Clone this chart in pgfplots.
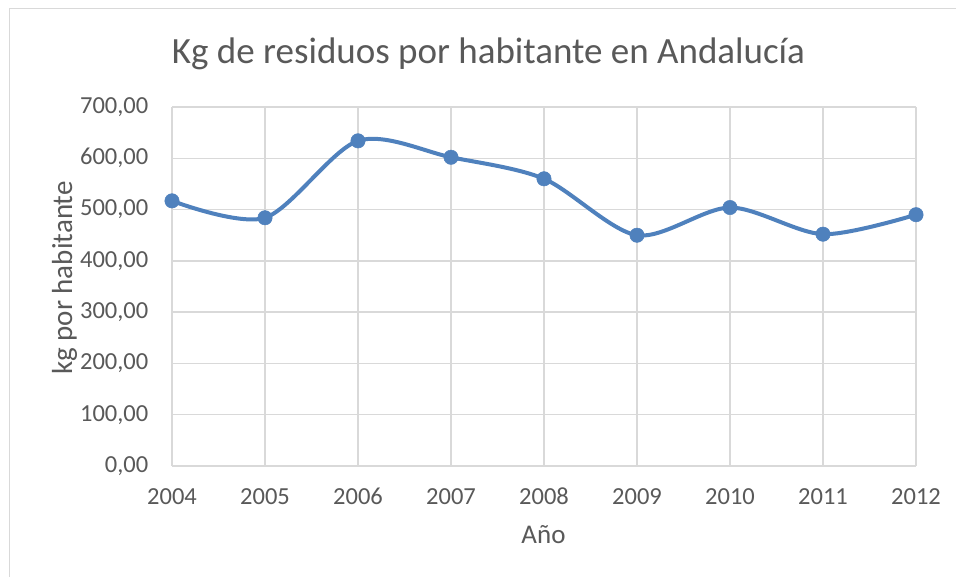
\documentclass[border=0pt]{standalone}
\usepackage{pgfplots}
\pgfplotsset{compat=1.18}
\usepackage{fontspec}
\setmainfont{Carlito}
\definecolor{txtgray}{HTML}{595959}
\definecolor{gridgray}{HTML}{D9D9D9}
\definecolor{linecol}{HTML}{4F81BD}
\begin{document}
\begin{tikzpicture}
\useasboundingbox (0bp,0bp) rectangle (956bp,577bp);
\fill[white] (0bp,0bp) rectangle (956bp,577bp);
\draw[gridgray, line width=1.3bp] (9.5bp,-2bp) -- (9.5bp,568.5bp) -- (958bp,568.5bp);
\begin{axis}[
  at={(172bp,111bp)}, anchor=south west,
  scale only axis, width=744bp, height=359bp,
  xmin=2004, xmax=2012, ymin=0, ymax=700,
  xtick={2004,2005,2006,2007,2008,2009,2010,2011,2012},
  xticklabels={2004,2005,2006,2007,2008,2009,2010,2011,2012},
  ytick={0,100,200,300,400,500,600,700},
  yticklabels={{0,00},{100,00},{200,00},{300,00},{400,00},{500,00},{600,00},{700,00}},
  axis line style={draw=none},
  major tick length=0pt,
  grid=major,
  major grid style={gridgray, line width=1.4bp},
  tick label style={font=\fontsize{24.5bp}{29bp}\selectfont, text=txtgray, inner sep=0pt},
  yticklabel style={anchor=east, xshift=-23.5bp},
  xticklabel style={anchor=north, yshift=-22bp},
  clip=false,
]
\addplot[linecol, line width=4bp, smooth, tension=0.5,
  mark=*, mark size=7.2bp, mark options={fill=linecol, draw=linecol, line width=0.5bp}]
  coordinates {
  (2004,517) (2005,484) (2006,634) (2007,602) (2008,560)
  (2009,450) (2010,504) (2011,452) (2012,490)
  };
\end{axis}
\node[anchor=base, text=txtgray, font=\fontsize{37bp}{44bp}\selectfont] at (488.5bp,513.7bp) {Kg de residuos por habitante en Andalucía};
\node[anchor=base, rotate=90, text=txtgray, font=\fontsize{29bp}{34bp}\selectfont] at (72bp,299bp) {kg por habitante};
\node[anchor=base, text=txtgray, font=\fontsize{27bp}{32bp}\selectfont] at (543.5bp,34bp) {Año};
\end{tikzpicture}
\end{document}
